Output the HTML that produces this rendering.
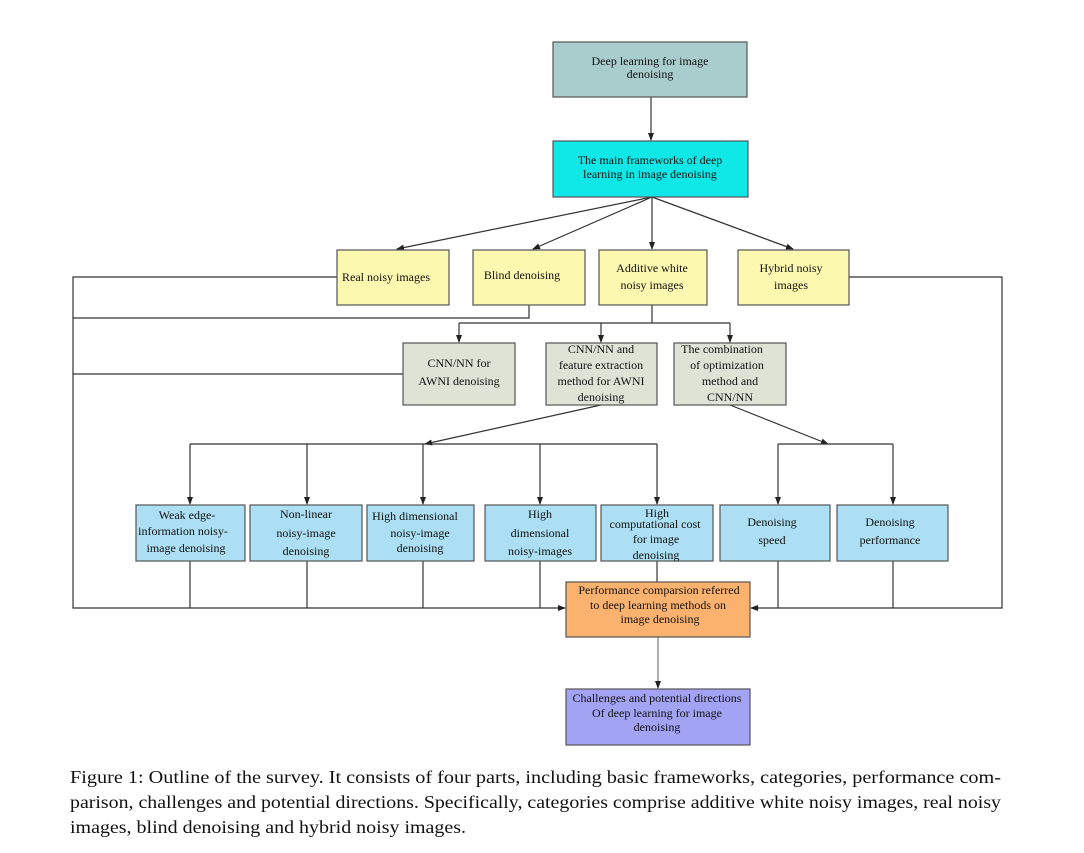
<!DOCTYPE html>
<html><head><meta charset="utf-8"><style>
html,body{margin:0;padding:0;background:#fff;}
svg{display:block;}
text{font-family:"Liberation Serif",serif;fill:#111;}
.b text{font-size:12px;}
</style></head><body>
<svg width="1084" height="853" viewBox="0 0 1084 853" xmlns="http://www.w3.org/2000/svg">
<defs>
<marker id="a" markerWidth="8" markerHeight="8" refX="7" refY="4" orient="auto" markerUnits="userSpaceOnUse">
<path d="M0,1 L8,4 L0,7 z" fill="#222"/></marker>
</defs>
<g stroke="#333" stroke-width="1.2" fill="none">
<!-- top -->
<line x1="651" y1="97" x2="651" y2="140" marker-end="url(#a)"/>
<line x1="652" y1="197" x2="397" y2="249" marker-end="url(#a)"/>
<line x1="652" y1="197" x2="533" y2="249" marker-end="url(#a)"/>
<line x1="652" y1="197" x2="652" y2="249" marker-end="url(#a)"/>
<line x1="652" y1="197" x2="793" y2="249" marker-end="url(#a)"/>
<!-- left bus -->
<polyline points="337,277 73,277 73,608 565,608" marker-end="url(#a)"/>
<polyline points="529,305 529,318 73,318"/>
<line x1="403" y1="374" x2="73" y2="374"/>
<!-- right bus -->
<polyline points="849,277 1002,277 1002,608 751,608" marker-end="url(#a)"/>
<!-- additive -->
<polyline points="652,305 652,323"/>
<line x1="459" y1="323" x2="730" y2="323"/>
<line x1="459" y1="323" x2="459" y2="342" marker-end="url(#a)"/>
<line x1="601" y1="323" x2="601" y2="342" marker-end="url(#a)"/>
<line x1="730" y1="323" x2="730" y2="342" marker-end="url(#a)"/>
<!-- mid -->
<line x1="601" y1="405" x2="425" y2="444" marker-end="url(#a)"/>
<line x1="730" y1="405" x2="828" y2="444" marker-end="url(#a)"/>
<line x1="190" y1="444" x2="657" y2="444"/>
<line x1="190" y1="444" x2="190" y2="504" marker-end="url(#a)"/>
<line x1="307" y1="444" x2="307" y2="504" marker-end="url(#a)"/>
<line x1="423" y1="444" x2="423" y2="504" marker-end="url(#a)"/>
<line x1="540" y1="444" x2="540" y2="504" marker-end="url(#a)"/>
<line x1="657" y1="444" x2="657" y2="504" marker-end="url(#a)"/>
<line x1="778" y1="444" x2="893" y2="444"/>
<line x1="778" y1="444" x2="778" y2="504" marker-end="url(#a)"/>
<line x1="893" y1="444" x2="893" y2="504" marker-end="url(#a)"/>
<!-- bottoms -->
<line x1="190" y1="561" x2="190" y2="608"/>
<line x1="307" y1="561" x2="307" y2="608"/>
<line x1="423" y1="561" x2="423" y2="608"/>
<line x1="540" y1="561" x2="540" y2="608"/>
<line x1="657" y1="561" x2="657" y2="582"/>
<line x1="778" y1="561" x2="778" y2="608"/>
<line x1="893" y1="561" x2="893" y2="608"/>
<line x1="658" y1="637" x2="658" y2="688" stroke="#777" marker-end="url(#a)"/>
</g>
<g stroke="#555" stroke-width="1.2">
<rect x="553" y="42" width="194" height="55" fill="#a8cdcc"/>
<rect x="553" y="141" width="195" height="56" fill="#10e8e8"/>
<rect x="337" y="250" width="112" height="55" fill="#fdf8b0"/>
<rect x="473" y="250" width="112" height="55" fill="#fdf8b0"/>
<rect x="599" y="250" width="108" height="55" fill="#fdf8b0"/>
<rect x="738" y="250" width="111" height="55" fill="#fdf8b0"/>
<rect x="403" y="343" width="112" height="62" fill="#dfe3d6"/>
<rect x="546" y="343" width="111" height="62" fill="#dfe3d6"/>
<rect x="674" y="343" width="112" height="62" fill="#dfe3d6"/>
<rect x="136" y="505" width="109" height="56" fill="#acdff3"/>
<rect x="250" y="505" width="112" height="56" fill="#acdff3"/>
<rect x="367" y="505" width="107" height="56" fill="#acdff3"/>
<rect x="485" y="505" width="111" height="56" fill="#acdff3"/>
<rect x="601" y="505" width="112" height="56" fill="#acdff3"/>
<rect x="720" y="505" width="110" height="56" fill="#acdff3"/>
<rect x="837" y="505" width="111" height="56" fill="#acdff3"/>
<rect x="566" y="582" width="184" height="55" fill="#fbb26e"/>
<rect x="566" y="689" width="184" height="56" fill="#a3a3f4"/>
</g>
<g class="b" text-anchor="middle">
<text x="650" y="65">Deep learning for image</text><text x="650" y="78">denoising</text>
<text x="650" y="164">The main frameworks of deep</text><text x="650" y="178">learning in  image denoising</text>
<text x="386" y="281">Real noisy images</text>
<text x="522" y="279">Blind denoising</text>
<text x="652" y="272">Additive white</text><text x="652" y="289">noisy images</text>
<text x="791" y="272">Hybrid noisy</text><text x="791" y="289">images</text>
<text x="459" y="367">CNN/NN for</text><text x="459" y="385">AWNI denoising</text>
<text x="601" y="353">CNN/NN and</text><text x="601" y="369">feature extraction</text><text x="601" y="385">method for AWNI</text><text x="601" y="401">denoising</text>
<text x="722" y="353">The combination</text><text x="727" y="369">of optimization</text><text x="730" y="385">method and</text><text x="730" y="401">CNN/NN</text>
<text x="187" y="519">Weak edge-</text><text x="183" y="535">information noisy-</text><text x="186" y="552">image denoising</text>
<text x="306" y="518">Non-linear</text><text x="306" y="537">noisy-image</text><text x="306" y="555">denoising</text>
<text x="415" y="520">High dimensional</text><text x="420" y="537">noisy-image</text><text x="420" y="552">denoising</text>
<text x="540" y="518">High</text><text x="540" y="537">dimensional</text><text x="540" y="555">noisy-images</text>
<text x="657" y="517" font-size="11">High</text><text x="655" y="528" font-size="11">computational cost</text><text x="656" y="543" font-size="11">for image</text><text x="656" y="559" font-size="11">denoising</text>
<text x="772" y="526">Denoising</text><text x="772" y="544">speed</text>
<text x="890" y="526">Denoising</text><text x="890" y="544">performance</text>
<text x="659" y="594">Performance comparsion referred</text><text x="658" y="609">to deep learning methods on</text><text x="660" y="623">image denoising</text>
<text x="657" y="702">Challenges and potential directions</text><text x="657" y="717">Of deep learning for image</text><text x="657" y="731">denoising</text>
</g>
<g font-size="17.5">
<text x="70" y="783" textLength="931" lengthAdjust="spacingAndGlyphs">Figure 1: Outline of the survey. It consists of four parts, including basic frameworks, categories, performance com-</text>
<text x="70" y="808" textLength="931" lengthAdjust="spacingAndGlyphs">parison, challenges and potential directions. Specifically, categories comprise additive white noisy images, real noisy</text>
<text x="70" y="833" textLength="396" lengthAdjust="spacingAndGlyphs">images, blind denoising and hybrid noisy images.</text>
</g>
</svg>
</body></html>
